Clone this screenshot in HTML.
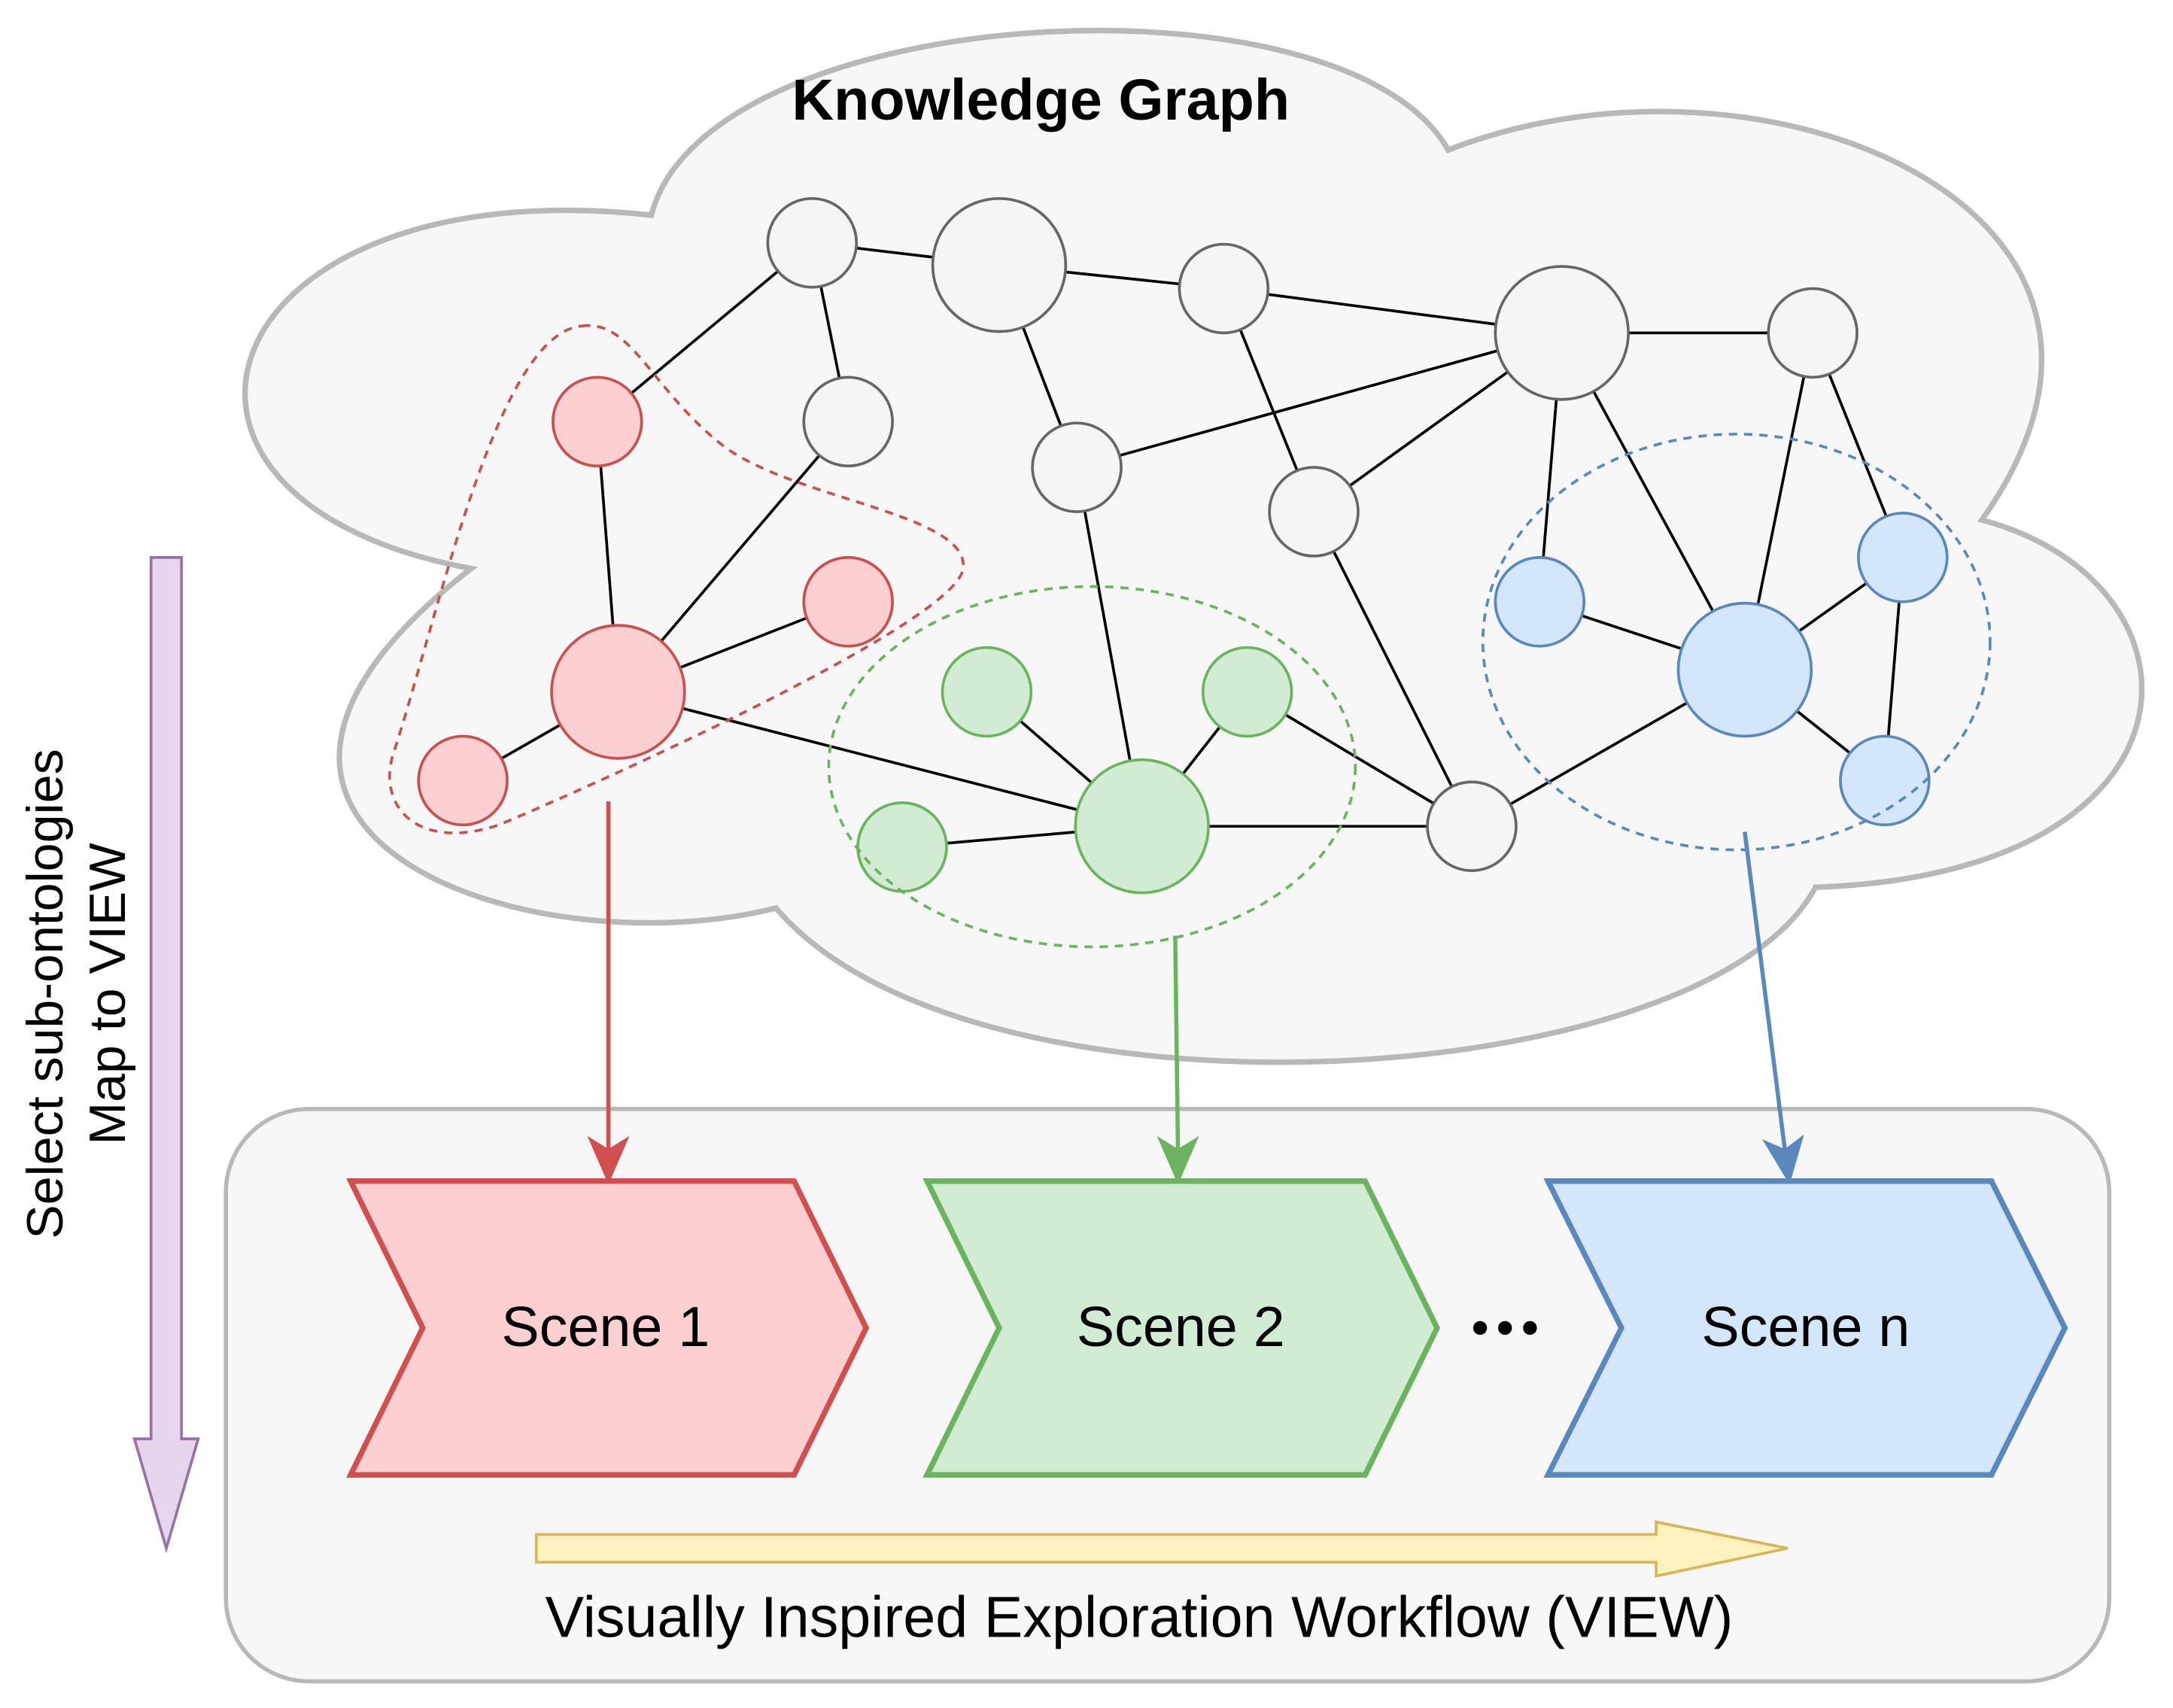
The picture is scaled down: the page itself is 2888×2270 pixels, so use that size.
<!DOCTYPE html>
<html><head><meta charset="utf-8"><style>
html,body{margin:0;padding:0;background:#fff}
svg{display:block}
text{font-family:"Liberation Sans",Arial,sans-serif}
</style></head><body>
<svg width="2888" height="2270" viewBox="0 0 1568 1232" xmlns="http://www.w3.org/2000/svg">
<!-- cloud -->
<path d="M470,155 C510,0 970,-25 1045,108 C1270,20 1590,150 1430,375 C1600,420 1600,630 1310,640 C1230,790 700,820 560,655 C380,700 95,600 340,410 C70,360 150,120 470,155 Z" fill="#f7f7f7" stroke="#b8b8b8" stroke-width="4"/>
<text x="751" y="86" text-anchor="middle" font-size="42" font-weight="bold">Knowledge Graph</text>
<!-- edges -->
<g stroke="#000" stroke-width="2">
<line x1="586" y1="175" x2="721" y2="191"/>
<line x1="721" y1="191" x2="883" y2="208"/>
<line x1="883" y1="208" x2="1127" y2="240"/>
<line x1="1127" y1="240" x2="1308" y2="240"/>
<line x1="586" y1="175" x2="431" y2="304"/>
<line x1="586" y1="175" x2="612" y2="304"/>
<line x1="721" y1="191" x2="777" y2="337"/>
<line x1="883" y1="208" x2="948" y2="369"/>
<line x1="777" y1="337" x2="1127" y2="240"/>
<line x1="948" y1="369" x2="1127" y2="240"/>
<line x1="612" y1="304" x2="446" y2="499"/>
<line x1="431" y1="304" x2="446" y2="499"/>
<line x1="612" y1="434" x2="446" y2="499"/>
<line x1="334" y1="563" x2="446" y2="499"/>
<line x1="446" y1="499" x2="824" y2="596"/>
<line x1="777" y1="337" x2="824" y2="596"/>
<line x1="712" y1="499" x2="824" y2="596"/>
<line x1="900" y1="499" x2="824" y2="596"/>
<line x1="651" y1="611" x2="824" y2="596"/>
<line x1="824" y1="596" x2="1062" y2="596"/>
<line x1="900" y1="499" x2="1062" y2="596"/>
<line x1="948" y1="369" x2="1062" y2="596"/>
<line x1="1062" y1="596" x2="1259" y2="483"/>
<line x1="1127" y1="240" x2="1111" y2="434"/>
<line x1="1127" y1="240" x2="1259" y2="483"/>
<line x1="1308" y1="240" x2="1259" y2="483"/>
<line x1="1308" y1="240" x2="1373" y2="402"/>
<line x1="1111" y1="434" x2="1259" y2="483"/>
<line x1="1373" y1="402" x2="1259" y2="483"/>
<line x1="1373" y1="402" x2="1360" y2="563"/>
<line x1="1259" y1="483" x2="1360" y2="563"/>
</g>
<!-- nodes -->
<g fill="#f5f5f5" stroke="#666" stroke-width="2">
<circle cx="586" cy="175" r="32"/><circle cx="721" cy="191" r="48"/><circle cx="883" cy="208" r="32"/>
<circle cx="1127" cy="240" r="48"/><circle cx="1308" cy="240" r="32"/><circle cx="612" cy="304" r="32"/>
<circle cx="777" cy="337" r="32"/><circle cx="948" cy="369" r="32"/><circle cx="1062" cy="596" r="32"/>
</g>
<g fill="#fcd0d0" stroke="#c85050" stroke-width="2">
<circle cx="431" cy="304" r="32"/><circle cx="612" cy="434" r="32"/><circle cx="446" cy="499" r="48"/><circle cx="334" cy="563" r="32"/>
</g>
<g fill="#d2ebd3" stroke="#6bb35f" stroke-width="2">
<circle cx="712" cy="499" r="32"/><circle cx="900" cy="499" r="32"/><circle cx="824" cy="596" r="48"/><circle cx="651" cy="611" r="32"/>
</g>
<g fill="#d4e6f9" stroke="#5a88bd" stroke-width="2">
<circle cx="1111" cy="434" r="32"/><circle cx="1373" cy="402" r="32"/><circle cx="1259" cy="483" r="48"/><circle cx="1360" cy="563" r="32"/>
</g>
<!-- dashed groups -->
<path d="M420,235 C455,230 470,280 520,320 C570,360 700,370 695,410 C690,450 420,570 360,595 C300,615 270,580 285,540 C320,430 360,240 420,235 Z" fill="none" stroke="#c85050" stroke-width="2" stroke-dasharray="6,5"/>
<ellipse cx="788" cy="553" rx="190" ry="130" fill="none" stroke="#6bb35f" stroke-width="2" stroke-dasharray="6,5"/>
<ellipse cx="1253" cy="463" rx="183" ry="150" fill="none" stroke="#5a88bd" stroke-width="2" stroke-dasharray="6,5"/>
<!-- bottom box -->
<rect x="163" y="800" width="1359" height="413" rx="60" fill="#f7f7f7" stroke="#b8b8b8" stroke-width="3"/>
<!-- connectors -->
<line x1="439" y1="578" x2="439" y2="830" stroke="#d05050" stroke-width="3"/>
<path d="M439,852 L426,822 L439,830 L452,822 Z" fill="#d05050" stroke="#d05050" stroke-width="2"/>
<line x1="848" y1="675" x2="850" y2="830" stroke="#6bb35f" stroke-width="3"/>
<path d="M850,852 L837,822 L850,830 L863,822 Z" fill="#6bb35f" stroke="#6bb35f" stroke-width="2"/>
<line x1="1259" y1="600" x2="1288" y2="830" stroke="#5a88bd" stroke-width="3"/>
<path d="M1291,852 L1274,824 L1288,830 L1300,821 Z" fill="#5a88bd" stroke="#5a88bd" stroke-width="2"/>
<!-- chevrons -->
<polygon points="253,852 573,852 625,958 573,1064 253,1064 305,958" fill="#fcd0d0" stroke="#d05050" stroke-width="4"/>
<polygon points="669,852 985,852 1037,958 985,1064 669,1064 721,958" fill="#d2ebd3" stroke="#6bb35f" stroke-width="4"/>
<polygon points="1117,852 1437,852 1490,958 1437,1064 1117,1064 1170,958" fill="#d4e6f9" stroke="#5a88bd" stroke-width="4"/>
<text x="437" y="971" text-anchor="middle" font-size="41">Scene 1</text>
<text x="852" y="971" text-anchor="middle" font-size="41">Scene 2</text>
<text x="1303" y="971" text-anchor="middle" font-size="41">Scene n</text>
<g fill="#000"><circle cx="1068" cy="958" r="5"/><circle cx="1086" cy="958" r="5"/><circle cx="1104" cy="958" r="5"/></g>
<!-- yellow arrow -->
<path d="M387,1107 L1195,1107 L1195,1098 L1290,1117 L1195,1137 L1195,1127 L387,1127 Z" fill="#fff2c0" stroke="#d6b656" stroke-width="2"/>
<text x="822" y="1181" text-anchor="middle" font-size="42">Visually Inspired Exploration Workflow (VIEW)</text>
<!-- purple arrow -->
<path d="M109,402 L131,402 L131,1038 L143,1038 L120,1117 L97,1038 L109,1038 Z" fill="#e6d5ec" stroke="#9673a6" stroke-width="2"/>
<text transform="translate(45,717) rotate(-90)" text-anchor="middle" font-size="37">Select sub-ontologies</text>
<text transform="translate(90,717) rotate(-90)" text-anchor="middle" font-size="37">Map to VIEW</text>
</svg>
</body></html>
